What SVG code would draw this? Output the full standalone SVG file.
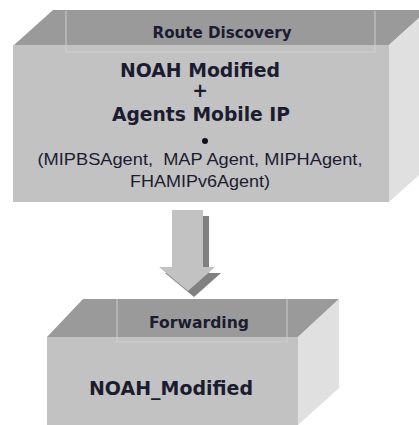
<svg xmlns="http://www.w3.org/2000/svg" width="419" height="425" viewBox="0 0 419 425">
  <style>
    .front { fill: #c2c2c2; }
    .top { fill: #9a9a9a; }
    .side { fill: #e0e0e0; }
    .tabline { stroke: #b3b3b3; stroke-width: 2; fill: none; }
    .tabfaint { stroke: #cbcbcb; stroke-width: 1.5; fill: none; }
    .hdr { font-family: "DejaVu Sans", Verdana, sans-serif; font-weight: bold; font-size: 15px; fill: #1c1c30; text-anchor: middle; }
    .big { font-family: "DejaVu Sans", Verdana, sans-serif; font-weight: bold; font-size: 18.7px; fill: #1c1c30; }
    .small { font-family: "Liberation Sans", Arial, sans-serif; font-size: 17px; fill: #1c1c30; text-anchor: middle; }
  </style>
  <rect width="419" height="425" fill="#ffffff"/>

  <g id="route-discovery">
    <polygon class="top" points="14,45 53,10 428,10 389,45"/>
    <polygon class="side" points="389,45 428,10 428,167 389,202"/>
    <rect class="front" x="13" y="45" width="376" height="157"/>
    <path class="tabline" d="M66,11 V45 M375,11 V45"/>
    <path class="tabfaint" d="M66,45 V52 H375 V45"/>
    <text class="hdr" x="222" y="38" textLength="139" lengthAdjust="spacingAndGlyphs">Route Discovery</text>
    <text class="big" x="200" y="77" text-anchor="middle" textLength="160" lengthAdjust="spacingAndGlyphs">NOAH Modified</text>
    <text class="big" x="200" y="97" text-anchor="middle">+</text>
    <text class="big" x="201" y="121" text-anchor="middle" textLength="178" lengthAdjust="spacingAndGlyphs">Agents Mobile IP</text>
    <circle cx="205" cy="141" r="3" fill="#111122"/>
    <text class="small" x="200" y="165" textLength="325" lengthAdjust="spacingAndGlyphs" xml:space="preserve">(MIPBSAgent,  MAP Agent, MIPHAgent,</text>
    <text class="small" x="200" y="187" textLength="140" lengthAdjust="spacingAndGlyphs">FHAMIPv6Agent)</text>
  </g>

  <g id="connectors">
    <polygon fill="#808080" points="178,216 209,216 209,273 221,273 194,297 165,273 178,273"/>
    <polygon fill="#c2c2c2" points="172,210 203,210 203,267 215,267 188,291 159,267 172,267"/>
  </g>

  <g id="forwarding">
    <polygon class="top" points="47,337 83,299 339,299 298,337"/>
    <polygon class="side" points="298,337 339,299 339,388 298,425"/>
    <rect class="front" x="47" y="337" width="251" height="90"/>
    <path class="tabline" d="M117,299 V337 M287,299 V337"/>
    <path class="tabfaint" d="M117,337 V342 H287 V337"/>
    <text class="hdr" x="199" y="328" textLength="100" lengthAdjust="spacingAndGlyphs">Forwarding</text>
    <text class="big" x="89" y="395" textLength="164" lengthAdjust="spacingAndGlyphs">NOAH_Modified</text>
  </g>
</svg>
